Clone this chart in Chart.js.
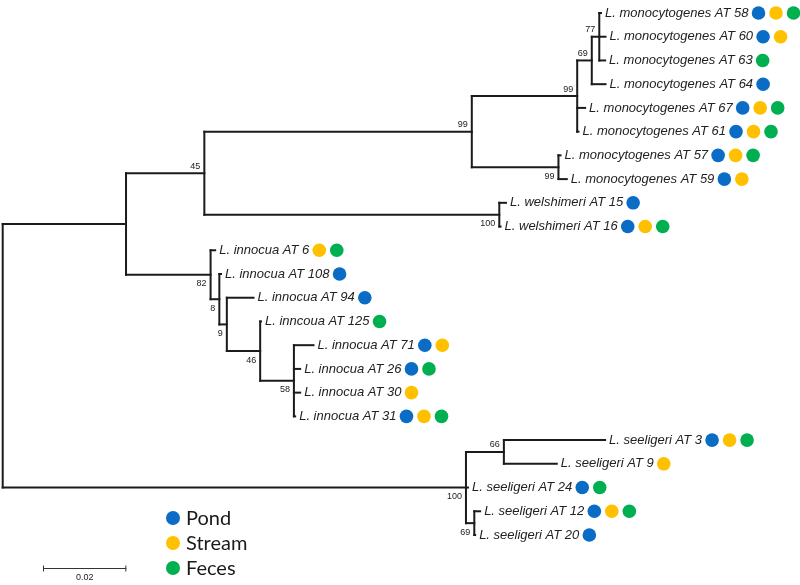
<!DOCTYPE html>
<html>
<head>
<meta charset="utf-8">
<script src="https://cdn.jsdelivr.net/npm/chart.js@4.4.0/dist/chart.umd.min.js"></script>
<style>
  html, body { margin: 0; padding: 0; background: #fff; }
  canvas { display: block; }
</style>
</head>
<body>
<canvas id="tree" width="800" height="585"></canvas>
<script>
// tips, top to bottom
var leafNames = [
  "L. monocytogenes AT 58", "L. monocytogenes AT 60", "L. monocytogenes AT 63",
  "L. monocytogenes AT 64", "L. monocytogenes AT 67", "L. monocytogenes AT 61",
  "L. monocytogenes AT 57", "L. monocytogenes AT 59",
  "L. welshimeri AT 15", "L. welshimeri AT 16",
  "L. innocua AT 6", "L. innocua AT 108", "L. innocua AT 94", "L. inncoua AT 125",
  "L. innocua AT 71", "L. innocua AT 26", "L. innocua AT 30", "L. innocua AT 31",
  "L. seeligeri AT 3", "L. seeligeri AT 9", "L. seeligeri AT 24",
  "L. seeligeri AT 12", "L. seeligeri AT 20"
];
// distance from the root
var leafDepth = [
  0.1436, 0.1447, 0.1446, 0.1447, 0.1398, 0.1382, 0.1339, 0.1354,
  0.1208, 0.1195,
  0.0510, 0.0524, 0.0602, 0.0620, 0.0746, 0.0714, 0.0714, 0.0702,
  0.1446, 0.1330, 0.1117, 0.1146, 0.1134
];
// where each isolate was found: P = pond, S = stream, F = feces
var leafSources = [
  "PSF", "PS", "F", "P", "PSF", "PSF", "PSF", "PS",
  "P", "PSF",
  "SF", "P", "P", "F", "PS", "PF", "S", "PSF",
  "PSF", "S", "PF", "PSF", "P"
];

// internal nodes; children are leaf indexes or node names
var nodeNames = ["root", "A", "B", "C", "D", "E", "F", "G", "H", "I", "J", "K", "L", "M", "N", "O", "P"];
var nodeDepth = [0, 0.0296, 0.0484, 0.1126, 0.1379, 0.1414, 0.1432, 0.1334, 0.1192,
                 0.0499, 0.0520, 0.0538, 0.0618, 0.0699, 0.1112, 0.1203, 0.1132];
var nodeChildren = [
  ["A", "N"], ["B", "I"], ["C", "H"], ["D", "G"], ["E", 4, 5], ["F", 3], [0, 1, 2],
  [6, 7], [8, 9], [10, "J"], [11, "K"], [12, "L"], [13, "M"], [14, 15, 16, 17],
  ["O", 20, "P"], [18, 19], [21, 22]
];
var nodeSupport = [null, null, 45, 99, 99, 69, 77, 99, 100, 82, 8, 9, 46, 58, 100, 66, 69];

var sourceKeys = ["P", "S", "F"];
var sourceNames = ["Pond", "Stream", "Feces"];
var sourceColors = ["#0a6cc4", "#ffc000", "#00b050"];
var scaleBarValue = 0.02;

// support label sits above or below the branch leading into the node
var supportBelow = [false, false, false, false, false, false, false, true, true,
                    true, true, true, true, true, true, false, true];

// work out the y of every node (midpoint of first and last child)
var nodeIndex = {};
nodeNames.forEach(function (n, i) { nodeIndex[n] = i; });
var nodeY = [];
function childY(c) {
  return typeof c === "number" ? c : getNodeY(nodeIndex[c]);
}
function childX(c) {
  return typeof c === "number" ? leafDepth[c] : nodeDepth[nodeIndex[c]];
}
function getNodeY(i) {
  if (nodeY[i] === undefined) {
    var kids = nodeChildren[i];
    nodeY[i] = (childY(kids[0]) + childY(kids[kids.length - 1])) / 2;
  }
  return nodeY[i];
}
nodeNames.forEach(function (n, i) { getNodeY(i); });

// branch segments
var segments = [];
nodeChildren.forEach(function (kids, i) {
  var x = nodeDepth[i];
  segments.push([{ x: x, y: childY(kids[0]) }, { x: x, y: childY(kids[kids.length - 1]) }]);
  kids.forEach(function (c) {
    segments.push([{ x: x, y: childY(c) }, { x: childX(c), y: childY(c) }]);
  });
});

var treeText = {
  id: "treeText",
  afterDatasetsDraw: function (chart) {
    var ctx = chart.ctx;
    var xs = chart.scales.x, ys = chart.scales.y;
    ctx.save();

    // bootstrap values
    ctx.font = "9px 'Liberation Sans', Arial, sans-serif";
    ctx.fillStyle = "#222";
    ctx.textAlign = "right";
    ctx.textBaseline = "middle";
    nodeSupport.forEach(function (v, i) {
      if (v === null) return;
      var px = xs.getPixelForValue(nodeDepth[i]) - 4;
      var py = ys.getPixelForValue(nodeY[i]) + (supportBelow[i] ? 9 : -7);
      ctx.fillText(String(v), px, py);
    });

    // tip labels and source dots
    ctx.font = "italic 13px 'Liberation Sans', Arial, sans-serif";
    ctx.textAlign = "left";
    leafNames.forEach(function (name, i) {
      var px = xs.getPixelForValue(leafDepth[i]) + 4;
      var py = ys.getPixelForValue(i);
      ctx.fillStyle = "#222";
      ctx.fillText(name, px, py);
      var dx = px + ctx.measureText(name).width + 10;
      leafSources[i].split("").forEach(function (k, j) {
        ctx.beginPath();
        ctx.arc(dx + j * 17.5, py, 6.8, 0, Math.PI * 2);
        ctx.fillStyle = sourceColors[sourceKeys.indexOf(k)];
        ctx.fill();
      });
    });

    // legend
    ctx.font = "20px Lato, 'Open Sans', sans-serif";
    sourceNames.forEach(function (n, i) {
      var ly = 518 + i * 25;
      ctx.beginPath();
      ctx.arc(173, ly, 7, 0, Math.PI * 2);
      ctx.fillStyle = sourceColors[i];
      ctx.fill();
      ctx.fillStyle = "#1a1a1a";
      ctx.fillText(n, 186, ly + 1);
    });

    // scale bar
    var len = xs.getPixelForValue(scaleBarValue) - xs.getPixelForValue(0);
    var bx = 43, by = 568.5;
    ctx.strokeStyle = "#333";
    ctx.lineWidth = 1;
    ctx.beginPath();
    ctx.moveTo(bx, by); ctx.lineTo(bx + len, by);
    ctx.moveTo(bx + 0.5, by - 3); ctx.lineTo(bx + 0.5, by + 3);
    ctx.moveTo(bx + len - 0.5, by - 3); ctx.lineTo(bx + len - 0.5, by + 3);
    ctx.stroke();
    ctx.font = "9px 'Liberation Sans', Arial, sans-serif";
    ctx.textAlign = "center";
    ctx.fillStyle = "#222";
    ctx.fillText(String(scaleBarValue), bx + len / 2, 578);

    ctx.restore();
  }
};

new Chart(document.getElementById("tree"), {
  type: "scatter",
  data: {
    datasets: segments.map(function (s) {
      return {
        data: s,
        showLine: true,
        borderColor: "#1b1b1b",
        borderWidth: 2,
        borderCapStyle: "square",
        pointRadius: 0,
        pointHoverRadius: 0
      };
    })
  },
  options: {
    responsive: false,
    animation: false,
    events: [],
    layout: { padding: 0 },
    plugins: { legend: { display: false }, tooltip: { enabled: false } },
    scales: {
      x: { type: "linear", min: -0.00065, max: 0.19138, display: false },
      y: { type: "linear", reverse: true, min: -0.548, max: 24.107, display: false }
    }
  },
  plugins: [treeText]
});
</script>
</body>
</html>
